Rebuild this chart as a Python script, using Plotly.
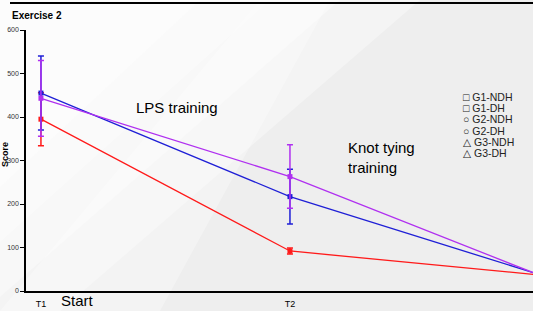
import plotly.graph_objects as go

times = ["T1", "T2", "T3"]
x_pos = [0, 1, 2]

g_red = [395, 92, 37]
g_red_err = [61, 7, 0]
g_blue = [455, 217, 38]
g_blue_err = [85, 63, 0]
g_purple = [443, 263, 37]
g_purple_err = [87, 73, 0]

legend_labels = ["\u25a1 G1-NDH", "\u25a1 G1-DH", "\u25cb G2-NDH", "\u25cb G2-DH", "\u25b3 G3-NDH", "\u25b3 G3-DH"]

W, H = 533, 311
L, R, T, B = 26, 0, 30, 20

fig = go.Figure()

series = [
    (g_red, g_red_err, "#ff1a1a"),
    (g_blue, g_blue_err, "#1f1fd6"),
    (g_purple, g_purple_err, "#b030f0"),
]
for vals, errs, col in series:
    fig.add_trace(go.Scatter(
        x=x_pos, y=vals, mode="lines+markers",
        line=dict(color=col, width=1.3),
        marker=dict(symbol="square", size=5, color=col),
        error_y=dict(type="data", array=errs, visible=True, color=col, thickness=1.5, width=3),
        showlegend=False, cliponaxis=True,
    ))

def px_x(p):
    return (p - L) / (W - L - R)

def px_y(p):
    return (H - B - p) / (H - T - B)

# soft background: white upper-left fading into light gray
for a, b in [(420, 330), (340, 270), (270, 220), (200, 170)]:
    fig.add_shape(type="path", xref="paper", yref="paper",
                  path=f"M {px_x(0)} {px_y(0)} L {px_x(a)} {px_y(0)} L {px_x(0)} {px_y(b*1.1)} Z",
                  fillcolor="white", opacity=0.35, line=dict(width=0), layer="below")
# lighter diagonal band lower-left
fig.add_shape(type="path", xref="paper", yref="paper",
              path=f"M {px_x(0)} {px_y(311)} L {px_x(160)} {px_y(311)} L {px_x(330)} {px_y(0)} L {px_x(260)} {px_y(0)} Z",
              fillcolor="white", opacity=0.3, line=dict(width=0), layer="below")

# top rule
fig.add_shape(type="line", xref="paper", yref="paper",
              x0=px_x(10), x1=1.0, y0=px_y(3), y1=px_y(3),
              line=dict(color="black", width=2))

fig.add_annotation(x=px_x(10), y=px_y(16), xref="paper", yref="paper", text="<b>Exercise 2</b>",
                   showarrow=False, xanchor="left", yanchor="middle",
                   font=dict(size=10, color="black", family="Arial, Liberation Sans"))
fig.add_annotation(x=px_x(5), y=px_y(155), xref="paper", yref="paper", text="<b>Score</b>",
                   showarrow=False, textangle=-90, xanchor="center", yanchor="middle",
                   font=dict(size=9, color="black", family="Arial, Liberation Sans"))
fig.add_annotation(x=px_x(134), y=px_y(107), xref="paper", yref="paper", text="LPS training",
                   showarrow=False, xanchor="left", yanchor="middle",
                   font=dict(size=15, color="black", family="Arial, Liberation Sans"))
fig.add_annotation(x=px_x(346), y=px_y(157), xref="paper", yref="paper", text="Knot tying<br>training",
                   showarrow=False, xanchor="left", yanchor="middle", align="left",
                   font=dict(size=15, color="black", family="Arial, Liberation Sans"))
fig.add_annotation(x=px_x(59), y=px_y(300), xref="paper", yref="paper", text="Start",
                   showarrow=False, xanchor="left", yanchor="middle",
                   font=dict(size=15, color="black", family="Arial, Liberation Sans"))
for i, lab in enumerate(legend_labels):
    fig.add_annotation(x=px_x(461), y=px_y(97 + i * 11.2), xref="paper", yref="paper", text=lab,
                       showarrow=False, xanchor="left", yanchor="middle",
                       font=dict(size=10.5, color="#222", family="Arial, Liberation Sans, DejaVu Sans"))

fig.update_layout(
    width=W, height=H,
    margin=dict(l=L, r=R, t=T, b=B, pad=0, autoexpand=False),
    paper_bgcolor="#eeeeee", plot_bgcolor="rgba(0,0,0,0)",
    showlegend=False, hovermode=False,
    font=dict(family="Arial, Liberation Sans", color="black"),
)
fig.update_xaxes(range=[-0.06, 1.976], tickvals=x_pos, ticktext=times, showgrid=False, zeroline=False,
                 showline=True, linecolor="black", linewidth=1.5, ticks="outside", ticklen=3,
                 tickcolor="rgba(0,0,0,0)", tickfont=dict(size=9), automargin=False)
fig.update_yaxes(range=[0, 600], tickvals=[0, 100, 200, 300, 400, 500, 600], showgrid=False, zeroline=False,
                 showline=True, linecolor="black", linewidth=1.5, ticks="outside", ticklen=4,
                 tickcolor="black", tickfont=dict(size=7, color="#333"), automargin=False)

fig.write_html("out.html", config={"displayModeBar": False},
               post_script="document.body.style.margin='0';document.body.style.overflow='hidden';")
